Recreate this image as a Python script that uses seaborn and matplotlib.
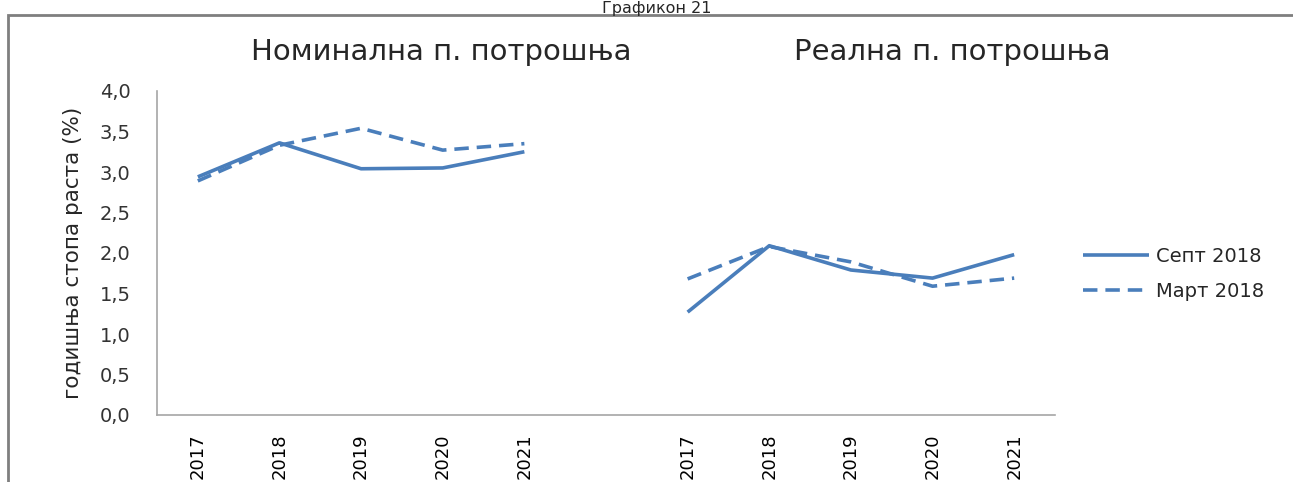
import numpy as np
import pandas as pd
import matplotlib
matplotlib.use("Agg")
import matplotlib.pyplot as plt
from matplotlib.patches import Rectangle
from matplotlib.ticker import FuncFormatter
import seaborn as sns

# podaci
years = ["2017", "2018", "2019", "2020", "2021"]
panels = ["Номинална п. потрошња", "Реална п. потрошња"]
series = ["Септ 2018", "Март 2018"]

nom_sept = [2.94, 3.36, 3.04, 3.05, 3.25]
nom_mart = [2.89, 3.33, 3.54, 3.27, 3.35]
real_sept = [1.27, 2.09, 1.79, 1.69, 1.98]
real_mart = [1.68, 2.08, 1.89, 1.59, 1.69]

# kategorije na x osi (prazno mesto izmedju dva panela)
x_labels = years + [""] + years
x_pos = np.arange(len(x_labels))

rows = []
for p, (sept, mart) in enumerate([(nom_sept, nom_mart), (real_sept, real_mart)]):
    offset = p * (len(years) + 1)
    for i, y in enumerate(years):
        rows.append({"x": x_pos[offset + i], "panel": panels[p], "serija": series[0], "v": sept[i]})
        rows.append({"x": x_pos[offset + i], "panel": panels[p], "serija": series[1], "v": mart[i]})
df = pd.DataFrame(rows)

sns.set_style("white")
plt.rcParams["font.family"] = ["DejaVu Sans"]

blue = "#4A7EBB"
fig = plt.figure(figsize=(12.93, 4.82), dpi=100)
ax = fig.add_axes([157 / 1293, 1 - 415 / 482, (1055 - 157) / 1293, (415 - 91) / 482])

sns.lineplot(data=df, x="x", y="v", hue="serija", style="serija", units="panel",
             estimator=None, palette=[blue, blue], dashes=[(1, 0), (4, 2.2)],
             linewidth=2.6, ax=ax, legend=True)

ax.set_xlim(-0.5, len(x_labels) - 0.5)
ax.set_ylim(0, 4)
ax.set_yticks(np.arange(0, 4.01, 0.5))
ax.yaxis.set_major_formatter(FuncFormatter(lambda v, _: f"{v:.1f}".replace(".", ",")))
ax.set_xticks(x_pos)
ax.set_xticklabels(x_labels, rotation=90, fontsize=13)
ax.tick_params(axis="y", labelsize=14, colors="#333333", length=0, pad=19)
ax.tick_params(axis="x", length=0, pad=13, labelcolor="black")
ax.set_xlabel("")
ax.set_ylabel("годишња стопа раста (%)", fontsize=15.5, labelpad=12)
for s in ["top", "right"]:
    ax.spines[s].set_visible(False)
for s in ["left", "bottom"]:
    ax.spines[s].set_color("#A6A6A6")
    ax.spines[s].set_linewidth(1.2)

# legenda
handles, labels = ax.get_legend_handles_labels()
ax.legend(handles, labels, loc="center left", bbox_to_anchor=(1065 / 1293, 1 - 274 / 482),
          bbox_transform=fig.transFigure, frameon=False, fontsize=14,
          handlelength=3.4, labelspacing=0.8, handletextpad=0.4)

# naslovi panela
fig.text(441 / 1293, 1 - 52 / 482, panels[0], ha="center", va="center", fontsize=21)
fig.text(952 / 1293, 1 - 52 / 482, panels[1], ha="center", va="center", fontsize=21)
fig.text(657 / 1293, 1 - 1 / 482, "Графикон 21", ha="center", va="top", fontsize=11.5)

# okvir
fig.patches.append(Rectangle((8 / 1293, -0.1), 1.2, 1 - 15 / 482 + 0.1,
                             transform=fig.transFigure, fill=False,
                             edgecolor="#7F7F7F", linewidth=2))

fig.savefig("out.png", dpi=100)
